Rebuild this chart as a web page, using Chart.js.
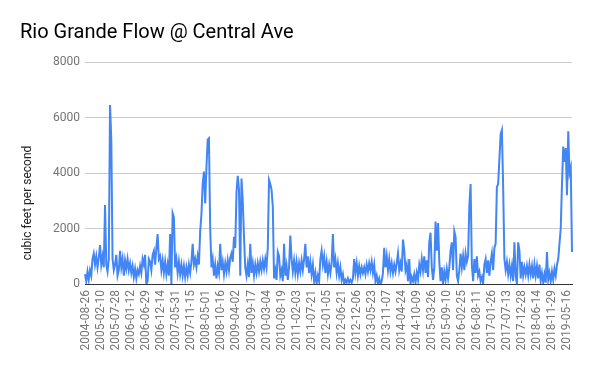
<!DOCTYPE html>
<html>
<head>
<meta charset="utf-8">
<script src="https://cdn.jsdelivr.net/npm/chart.js@4.4.0/dist/chart.umd.min.js"></script>
<style>
  html, body { margin: 0; padding: 0; background: #fff; }
</style>
</head>
<body>
<canvas id="chart" width="591" height="371"></canvas>
<script>
const TITLE = 'Rio Grande Flow @ Central Ave';
const Y_TITLE = 'cubic feet per second';
const START_DATE = '2004-08-12';
const STEP_DAYS = 14;

const tickLabels = [
  '2004-08-26', '2005-02-10', '2005-07-28', '2006-01-12', '2006-06-29', '2006-12-14',
  '2007-05-31', '2007-11-15', '2008-05-01', '2008-10-16', '2009-04-02', '2009-09-17',
  '2010-03-04', '2010-08-19', '2011-02-03', '2011-07-21', '2012-01-05', '2012-06-21',
  '2012-12-06', '2013-05-23', '2013-11-07', '2014-04-24', '2014-10-09', '2015-03-26',
  '2015-09-10', '2016-02-25', '2016-08-11', '2017-01-26', '2017-07-13', '2017-12-28',
  '2018-06-14', '2018-11-29', '2019-05-16'
];

const yTicks = [0, 2000, 4000, 6000, 8000];

const flow = [
  350,
  100, 450, 150, 500, 300, 900, 1100, 700, 1000, 600, 950, 1400,     // 2004-08-26
  700, 1000, 600, 2850, 700, 450, 900, 6450, 5200, 900, 500, 700,    // 2005-02-10
  1050, 300, 500, 1200, 600, 900, 300, 850, 550, 900, 500, 750,      // 2005-07-28
  400, 650, 250, 550, 200, 500, 350, 650, 400, 900, 700, 1050,       // 2006-01-12
  0, 100, 900, 800, 500, 1050, 1200, 700, 1300, 1800, 900, 1000,     // 2006-06-29
  500, 850, 400, 800, 350, 700, 300, 1800, 0, 2550, 2400, 600,       // 2006-12-14
  900, 400, 800, 350, 700, 300, 650, 250, 600, 300, 700, 400,        // 2007-05-31
  800, 1450, 700, 900, 600, 1000, 700, 1900, 2500, 3600, 4050, 2900, // 2007-11-15
  4200, 5200, 5250, 2000, 600, 900, 300, 700, 200, 650, 400, 1450,   // 2008-05-01
  500, 800, 350, 750, 450, 850, 500, 950, 1100, 800, 1700, 1300,     // 2008-10-16
  3300, 3900, 3400, 300, 3800, 3000, 1700, 600, 300, 700, 250, 1450, // 2009-04-02
  400, 750, 300, 700, 400, 750, 450, 800, 500, 850, 550, 900,        // 2009-09-17
  600, 1300, 3750, 3600, 3400, 2800, 200, 500, 150, 1150, 1000, 300, // 2010-03-04
  500, 100, 1450, 300, 650, 150, 600, 1750, 900, 450, 850, 400,      // 2010-08-19
  800, 350, 750, 450, 850, 500, 900, 1450, 600, 1000, 400, 800,      // 2011-02-03
  350, 700, 100, 400, 0, 300, 100, 900, 1200, 700, 1000, 400,        // 2011-07-21
  800, 350, 700, 400, 750, 1800, 600, 900, 400, 750, 300, 600,       // 2012-01-05
  150, 350, 0, 150, 50, 200, 50, 150, 50, 200, 900, 400,             // 2012-06-21
  750, 300, 650, 350, 600, 400, 600, 350, 700, 450, 750, 500,        // 2012-12-06
  800, 400, 700, 100, 300, 0, 200, 0, 100, 400, 1300, 600,           // 2013-05-23
  1000, 500, 900, 450, 750, 400, 700, 450, 750, 1100, 500, 750,      // 2013-11-07
  450, 1600, 1200, 500, 700, 100, 900, 0, 250, 100, 350, 50,         // 2014-04-24
  400, 150, 700, 450, 900, 500, 1000, 400, 850, 250, 1500, 1850,     // 2014-10-09
  600, 150, 600, 2250, 1200, 2200, 800, 100, 600, 0, 450, 150,       // 2015-03-26
  550, 200, 600, 1200, 1500, 500, 1900, 1700, 300, 100, 500, 1100,   // 2015-09-10
  600, 1000, 500, 1100, 800, 1000, 2800, 3600, 700, 100, 900, 400,   // 2016-02-25
  1000, 300, 450, 100, 250, 0, 700, 900, 400, 850, 300, 800,         // 2016-08-11
  1100, 500, 1300, 1450, 3500, 3600, 4500, 5400, 5550, 3500, 900, 500, // 2017-01-26
  800, 350, 700, 300, 650, 100, 1500, 300, 0, 1500, 1200, 200,       // 2017-07-13
  800, 300, 600, 350, 650, 300, 700, 350, 650, 200, 700, 300,        // 2017-12-28
  650, 200, 700, 100, 400, 50, 350, 50, 1150, 150, 400, 100,         // 2018-06-14
  450, 150, 550, 300, 700, 900, 1450, 2000, 3600, 4950, 4400, 4900,  // 2018-11-29
  3200, 5500, 4000, 4200, 1150                                       // 2019-05-16
];

// one date string per sample
const categories = flow.map((_, i) => {
  const d = new Date(START_DATE + 'T00:00:00Z');
  d.setUTCDate(d.getUTCDate() + i * STEP_DAYS);
  return d.toISOString().slice(0, 10);
});

const FONT = 'Roboto, "Noto Sans", Arial, sans-serif';

// titles drawn by hand so they sit where the original has them
const titlePlugin = {
  id: 'titles',
  afterDraw(chart) {
    const ctx = chart.ctx;
    ctx.save();
    ctx.fillStyle = '#000';
    ctx.font = '20px ' + FONT;
    ctx.textBaseline = 'alphabetic';
    ctx.textAlign = 'left';
    ctx.fillText(TITLE, 20, 38);

    ctx.fillStyle = '#222';
    ctx.font = '12px ' + FONT;
    ctx.translate(28, 203);
    ctx.rotate(-Math.PI / 2);
    ctx.textAlign = 'center';
    ctx.textBaseline = 'middle';
    ctx.fillText(Y_TITLE, 0, 0);
    ctx.restore();
  }
};

new Chart(document.getElementById('chart'), {
  type: 'line',
  data: {
    labels: categories,
    datasets: [{
      data: flow,
      borderColor: '#4285f4',
      borderWidth: 2,
      pointRadius: 0,
      tension: 0,
      fill: false
    }]
  },
  options: {
    responsive: false,
    animation: false,
    layout: { padding: { top: 62, right: 19, bottom: 0, left: 0 } },
    plugins: {
      legend: { display: false },
      tooltip: { enabled: false }
    },
    scales: {
      x: {
        type: 'category',
        grid: { display: false, drawTicks: false },
        border: { color: '#333', width: 1 },
        ticks: {
          autoSkip: false,
          minRotation: 90,
          maxRotation: 90,
          padding: 6,
          color: '#757575',
          font: { family: FONT, size: 12 }
        },
        afterBuildTicks: s => {
          s.ticks = s.ticks.filter(t => tickLabels.includes(categories[t.value]));
        },
        afterFit: s => { s.height = 87; }
      },
      y: {
        min: yTicks[0],
        max: yTicks[yTicks.length - 1],
        ticks: {
          stepSize: yTicks[1] - yTicks[0],
          padding: 5,
          color: '#757575',
          font: { family: FONT, size: 12 },
          callback: v => String(v)
        },
        grid: {
          drawTicks: false,
          color: ctx => (ctx.tick && ctx.tick.value === 0) ? 'rgba(0,0,0,0)' : '#cccccc'
        },
        border: { display: false },
        afterFit: s => { s.width = 85; }
      }
    }
  },
  plugins: [titlePlugin]
});
</script>
</body>
</html>
